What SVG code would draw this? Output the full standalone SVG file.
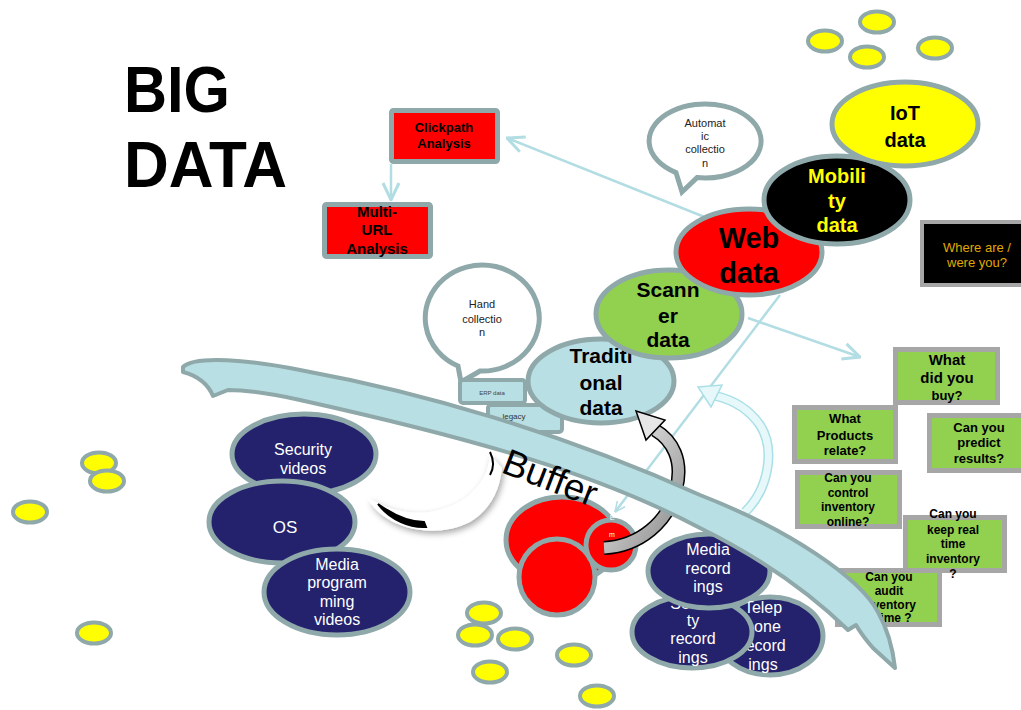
<svg xmlns="http://www.w3.org/2000/svg" width="1021" height="710" viewBox="0 0 1021 710">
<defs>
<style>
text{font-family:"Liberation Sans",Arial,sans-serif;text-anchor:middle}
.dot{fill:#ffff00;stroke:#8fa8aa;stroke-width:4}
.ov{stroke:#8fa8aa;stroke-width:5}
.navy{fill:#24226c}
.red{fill:#ff0000}
.grn{fill:#92d050;stroke:#a6a6a6;stroke-width:5}
.gt{font-weight:bold;fill:#000}
.wt{fill:#fff}
.con{stroke:#b2dde3;fill:none;stroke-width:2.5}
</style>
<marker id="v" viewBox="0 0 20 20" refX="19" refY="10" markerWidth="20" markerHeight="20" markerUnits="userSpaceOnUse" orient="auto">
<path d="M2,2 L19,10 L2,18" fill="none" stroke="#b2dde3" stroke-width="3"/>
</marker>
<marker id="vs" viewBox="0 0 20 20" refX="19" refY="10" markerWidth="12" markerHeight="12" markerUnits="userSpaceOnUse" orient="auto">
<path d="M2,2 L19,10 L2,18" fill="none" stroke="#b2dde3" stroke-width="2.5"/>
</marker>
<linearGradient id="gg" x1="0" y1="0" x2="1" y2="1">
<stop offset="0" stop-color="#f2f2f2"/><stop offset="1" stop-color="#8c8c8c"/>
</linearGradient>
<filter id="sh" x="-20%" y="-20%" width="140%" height="140%">
<feDropShadow dx="2" dy="3" stdDeviation="3" flood-color="#000" flood-opacity="0.35"/>
</filter>
</defs>

<g id="title">
<text x="124" y="112" font-size="65" font-weight="bold" style="text-anchor:start" textLength="106" lengthAdjust="spacingAndGlyphs">BIG</text>
<text x="124" y="187" font-size="65" font-weight="bold" style="text-anchor:start" textLength="163" lengthAdjust="spacingAndGlyphs">DATA</text>
</g>

<g id="dots">
<ellipse class="dot" cx="825" cy="41" rx="17" ry="10.5"/>
<ellipse class="dot" cx="877" cy="22" rx="17" ry="10.5"/>
<ellipse class="dot" cx="867" cy="57" rx="17" ry="10.5"/>
<ellipse class="dot" cx="935" cy="48" rx="17" ry="10.5"/>
<ellipse class="dot" cx="99" cy="463" rx="17" ry="10.5"/>
<ellipse class="dot" cx="107" cy="481" rx="17" ry="10.5"/>
<ellipse class="dot" cx="30" cy="512" rx="17" ry="10.5"/>
<ellipse class="dot" cx="94" cy="633" rx="17" ry="10.5"/>
<ellipse class="dot" cx="484" cy="613" rx="17" ry="10.5"/>
<ellipse class="dot" cx="475" cy="635" rx="17" ry="10.5"/>
<ellipse class="dot" cx="515" cy="639" rx="17" ry="10.5"/>
<ellipse class="dot" cx="490" cy="672" rx="17" ry="10.5"/>
<ellipse class="dot" cx="574" cy="655" rx="17" ry="10.5"/>
<ellipse class="dot" cx="597" cy="696" rx="17" ry="10.5"/>
</g>

<g id="connectors">
<line class="con" x1="391" y1="164" x2="391" y2="200" stroke-width="3.5" marker-end="url(#v)"/>
<line class="con" x1="712" y1="220" x2="507" y2="138" marker-end="url(#v)"/>
<line class="con" x1="780" y1="295" x2="615" y2="512" stroke-width="1.8" marker-end="url(#vs)"/>
<line class="con" x1="748" y1="318" x2="860" y2="357" marker-end="url(#v)"/>
</g>

<g id="automatic-collection">
<path d="M697,177.6 A56,37 0 1,0 676,172.6 L682,192 Z" fill="#fff" class="ov" stroke-width="4.5"/>
<text x="705" y="127" font-size="11" fill="#222">Automat</text>
<text x="705" y="140" font-size="11" fill="#222">ic</text>
<text x="705" y="153" font-size="11" fill="#222">collectio</text>
<text x="705" y="167" font-size="11" fill="#222">n</text>
</g>

<g id="clickpath">
<rect x="391.5" y="110.5" width="106" height="51" rx="2" class="red" stroke="#8fa8aa" stroke-width="5"/>
<text x="444" y="132" font-size="13" class="gt">Clickpath</text>
<text x="444" y="148" font-size="13" class="gt">Analysis</text>
</g>

<g id="multi-url">
<rect x="324.5" y="204.5" width="106" height="52" rx="2" class="red" stroke="#8fa8aa" stroke-width="5"/>
<text x="377" y="217" font-size="15" class="gt">Multi-</text>
<text x="377" y="235" font-size="15" class="gt">URL</text>
<text x="377" y="254" font-size="15" class="gt">Analysis</text>
</g>

<g id="where-are-you">
<rect x="922" y="222" width="104" height="63" fill="#000" stroke="#a6a6a6" stroke-width="4"/>
<text x="977" y="252" font-size="13" fill="#e0a800">Where are /</text>
<text x="977" y="267" font-size="13" fill="#e0a800">were you?</text>
</g>

<g id="hand-collection">
<path d="M480,371 A57,53 0 1,0 458,366 L461,382 Z" fill="#fff" class="ov" stroke-width="4.5"/>
<text x="482" y="308" font-size="11" fill="#222">Hand</text>
<text x="482" y="323" font-size="11" fill="#222">collectio</text>
<text x="482" y="336" font-size="11" fill="#222">n</text>
</g>

<g id="erp-data">
<rect x="460" y="380" width="65" height="23" rx="3" fill="#b8dfe4" stroke="#8fa8aa" stroke-width="4"/>
<text x="492" y="395" font-size="6" fill="#444">ERP data</text>
</g>
<g id="legacy">
<rect x="488" y="405" width="74" height="27" rx="3" fill="#b8dfe4" stroke="#8fa8aa" stroke-width="4"/>
<text x="514" y="419" font-size="8" fill="#333">legacy</text>
</g>

<g id="traditional-data">
<ellipse cx="601" cy="381" rx="73" ry="42" fill="#b8dfe4" class="ov"/>
<text x="601" y="363" font-size="21" class="gt">Traditi</text>
<text x="601" y="390" font-size="21" class="gt">onal</text>
<text x="601" y="415" font-size="21" class="gt">data</text>
</g>

<g id="scanner-data">
<ellipse cx="669" cy="314" rx="73" ry="44" fill="#92d050" class="ov"/>
<text x="668" y="297" font-size="21" class="gt">Scann</text>
<text x="668" y="323" font-size="21" class="gt">er</text>
<text x="668" y="347" font-size="21" class="gt">data</text>
</g>

<g id="web-data">
<ellipse cx="749" cy="252" rx="73" ry="43" class="red ov"/>
<text x="749" y="248" font-size="29" class="gt">Web</text>
<text x="749" y="283" font-size="29" class="gt">data</text>
</g>

<g id="mobility-data">
<ellipse cx="837" cy="200" rx="73" ry="44" fill="#000" class="ov"/>
<text x="837" y="183" font-size="20" font-weight="bold" fill="#ffff00">Mobili</text>
<text x="837" y="208" font-size="20" font-weight="bold" fill="#ffff00">ty</text>
<text x="837" y="232" font-size="20" font-weight="bold" fill="#ffff00">data</text>
</g>

<g id="iot-data">
<ellipse cx="905" cy="124" rx="73" ry="42" fill="#ffff00" class="ov"/>
<text x="905" y="120" font-size="20" class="gt">IoT</text>
<text x="905" y="147" font-size="20" class="gt">data</text>
</g>

<g id="security-videos">
<ellipse cx="304" cy="454" rx="72" ry="40" class="navy ov"/>
<text x="303" y="455" font-size="16" class="wt">Security</text>
<text x="303" y="474" font-size="16" class="wt">videos</text>
</g>
<g id="os">
<ellipse cx="282" cy="522" rx="73" ry="41" class="navy ov"/>
<text x="285" y="533" font-size="17" class="wt">OS</text>
</g>
<g id="media-programming-videos">
<ellipse cx="337" cy="592" rx="73" ry="43" class="navy ov"/>
<text x="337" y="570" font-size="16" class="wt">Media</text>
<text x="337" y="588" font-size="16" class="wt">program</text>
<text x="337" y="607" font-size="16" class="wt">ming</text>
<text x="337" y="625" font-size="16" class="wt">videos</text>
</g>

<g id="red-big">
<ellipse cx="562" cy="540" rx="56" ry="43" class="red ov"/>
</g>
<g id="red-lower">
<ellipse cx="557" cy="577" rx="38" ry="38" class="red ov"/>
</g>
<g id="red-small">
<ellipse cx="611" cy="545" rx="25" ry="25" class="red ov"/>
<text x="612" y="520" font-size="7" class="wt">E</text>
<text x="612" y="537" font-size="7" class="wt">m</text>
</g>

<g id="telephone-recordings">
<ellipse cx="770" cy="636" rx="53" ry="39" class="navy ov"/>
<text x="763" y="613" font-size="16" class="wt">Telep</text>
<text x="763" y="632" font-size="16" class="wt">hone</text>
<text x="763" y="651" font-size="16" class="wt">record</text>
<text x="763" y="670" font-size="16" class="wt">ings</text>
</g>
<g id="security-recordings">
<ellipse cx="692" cy="632" rx="60" ry="36" class="navy ov"/>
<text x="693" y="609" font-size="16" class="wt">Securi</text>
<text x="693" y="626" font-size="16" class="wt">ty</text>
<text x="693" y="644" font-size="16" class="wt">record</text>
<text x="693" y="663" font-size="16" class="wt">ings</text>
</g>
<g id="media-recordings">
<ellipse cx="709" cy="571" rx="61" ry="37" class="navy ov"/>
<text x="708" y="555" font-size="16" class="wt">Media</text>
<text x="708" y="574" font-size="16" class="wt">record</text>
<text x="708" y="592" font-size="16" class="wt">ings</text>
</g>

<g id="q-buy">
<rect x="895.5" y="349.5" width="102" height="53" class="grn"/>
<text x="947" y="365" font-size="15" class="gt">What</text>
<text x="947" y="383" font-size="15" class="gt">did you</text>
<text x="947" y="400" font-size="13" class="gt">buy?</text>
</g>
<g id="q-products">
<rect x="794.5" y="407.5" width="101" height="54" class="grn"/>
<text x="845" y="423" font-size="13" class="gt">What</text>
<text x="845" y="440" font-size="13" class="gt">Products</text>
<text x="845" y="455" font-size="13" class="gt">relate?</text>
</g>
<g id="q-predict">
<rect x="929.5" y="415.5" width="100" height="55" class="grn"/>
<text x="979" y="432" font-size="13" class="gt">Can you</text>
<text x="979" y="447" font-size="13" class="gt">predict</text>
<text x="979" y="463" font-size="13" class="gt">results?</text>
</g>
<g id="q-control">
<rect x="797.5" y="472.5" width="102" height="54" class="grn"/>
<text x="848" y="482" font-size="12" class="gt">Can you</text>
<text x="848" y="497" font-size="12" class="gt">control</text>
<text x="848" y="511" font-size="12" class="gt">inventory</text>
<text x="848" y="526" font-size="12" class="gt">online?</text>
</g>
<g id="q-audit">
<rect x="837.5" y="570.5" width="102" height="54" class="grn"/>
<text x="889" y="581" font-size="12" class="gt">Can you</text>
<text x="889" y="595" font-size="12" class="gt">audit</text>
<text x="889" y="609" font-size="12" class="gt">inventory</text>
<text x="894" y="622" font-size="12" class="gt">time ?</text>
</g>
<g id="q-realtime">
<rect x="905.5" y="517.5" width="99" height="53" class="grn"/>
<text x="953" y="518" font-size="12" class="gt">Can you</text>
<text x="953" y="534" font-size="12" class="gt">keep real</text>
<text x="953" y="548" font-size="12" class="gt">time</text>
<text x="953" y="563" font-size="12" class="gt">inventory</text>
<text x="953" y="578" font-size="12" class="gt">?</text>
</g>

<g id="white-arrow">
<path d="M368,498 C380,525 430,542 470,522 C490,510 500,490 502,468 L490,455 C488,480 470,505 430,512 C405,515 385,508 368,498 Z" fill="#fff" filter="url(#sh)"/>
<path d="M378,504 C390,520 410,528 426,527 L424,522 C408,522 392,514 378,504 Z" fill="#000" stroke="#000" stroke-width="2"/>
<path d="M490,452 C494,460 494,468 490,475" fill="none" stroke="#000" stroke-width="2"/>
</g>

<g id="gray-arrow">
<path d="M604,548 C640,546 668,522 676,490 C684,460 672,440 655,430" fill="none" stroke="#000" stroke-width="14"/>
<path d="M604,548 C640,546 668,522 676,490 C684,460 672,440 655,430" fill="none" stroke="url(#gg)" stroke-width="11"/>
<path d="M636,411 L665,420 L646,440 Z" fill="#e6e6e6" stroke="#000" stroke-width="1.5"/>
</g>

<g id="cyan-arrow">
<path d="M745,512 C768,490 776,450 760,425 C748,408 733,400 716,396" fill="none" stroke="#a9dfe6" stroke-width="10"/>
<path d="M745,512 C768,490 776,450 760,425 C748,408 733,400 716,396" fill="none" stroke="#e6f8fa" stroke-width="7"/>
<path d="M698,387 L722,385 L711,407 Z" fill="#e6f8fa" stroke="#a9dfe6" stroke-width="1.5"/>
</g>

<g id="buffer">
<path d="M183,367 C195,355 250,360 300,370 C420,392 560,432 700,495 C790,530 860,578 878,612 C888,630 893,650 895,668 L873,648 C866,640 860,632 856,625 L848,630 C815,598 765,560 700,528 C600,475 480,440 300,400 C268,393 245,390 228,390 L213,396 C208,384 198,376 183,372 Z" fill="#b8dfe4" stroke="#8fa8aa" stroke-width="4" stroke-linejoin="round"/>
<text x="500" y="472" font-size="37" transform="rotate(21 500 472)" style="text-anchor:start">Buffer</text>
</g>
</svg>
